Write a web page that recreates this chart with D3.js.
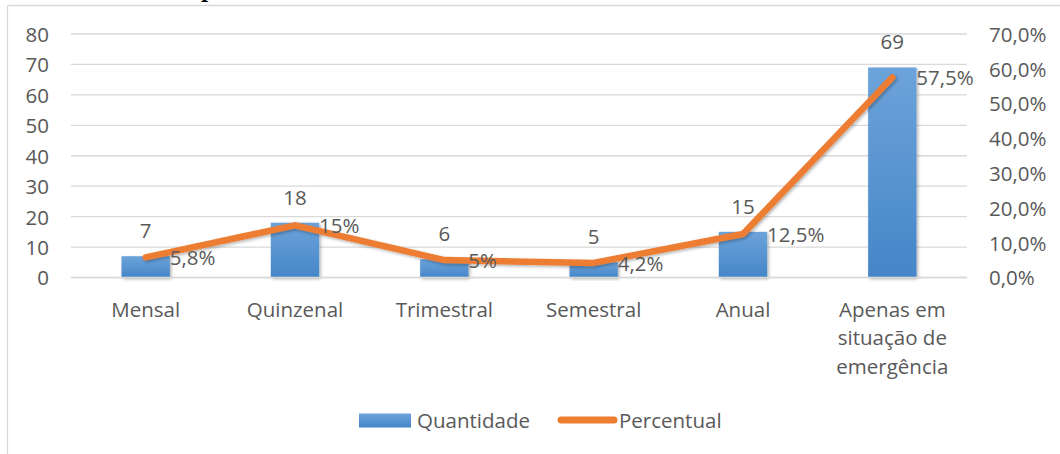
<!DOCTYPE html>
<html>
<head>
<meta charset="utf-8">
<script src="https://cdn.jsdelivr.net/npm/d3@7"></script>
<style>
  html, body { margin: 0; padding: 0; background: #fff; }
  svg { display: block; }
  text { font-family: "Open Sans", "Noto Sans", sans-serif; fill: #595959; }
</style>
</head>
<body>
<svg id="chart" width="1060" height="454"></svg>
<script>
const categories = ["Mensal", "Quinzenal", "Trimestral", "Semestral", "Anual", "Apenas em situação de emergência"];
const quantities = [7, 18, 6, 5, 15, 69];
const percents = [0.058, 0.15, 0.05, 0.042, 0.125, 0.575];
const percentLabels = ["5,8%", "15%", "5%", "4,2%", "12,5%", "57,5%"];
const leftTicks = [0, 10, 20, 30, 40, 50, 60, 70, 80];
const rightTicks = [0, 0.1, 0.2, 0.3, 0.4, 0.5, 0.6, 0.7];
const legendLabels = ["Quantidade", "Percentual"];

(function () {
const FS = 20.5;
const svg = d3.select("#chart");
const pL = 71, pR = 967, pT = 34, pB = 277.5;

const pt = d3.formatLocale({decimal: ",", thousands: ".", grouping: [3], currency: ["", ""]}).format(".1%");

const defs = svg.append("defs");
const grad = defs.append("linearGradient").attr("id", "barGrad").attr("x1", 0).attr("y1", 0).attr("x2", 0).attr("y2", 1);
grad.append("stop").attr("offset", "0%").attr("stop-color", "#6ca3da");
grad.append("stop").attr("offset", "100%").attr("stop-color", "#4586c8");
const lgrad = defs.append("linearGradient").attr("id", "legGrad").attr("x1", 0).attr("y1", 0).attr("x2", 0).attr("y2", 1);
lgrad.append("stop").attr("offset", "0%").attr("stop-color", "#6ca3da");
lgrad.append("stop").attr("offset", "100%").attr("stop-color", "#4586c8");
const sh = defs.append("filter").attr("id", "shadow").attr("x", "-20%").attr("y", "-20%").attr("width", "140%").attr("height", "140%");
sh.append("feDropShadow").attr("dx", 1.5).attr("dy", 1.5).attr("stdDeviation", 1.6).attr("flood-color", "#000").attr("flood-opacity", 0.3);

// frame
svg.append("line").attr("x1", 7.5).attr("x2", 7.5).attr("y1", 5.5).attr("y2", 454).attr("stroke", "#d9d9d9").attr("stroke-width", 1.3);
svg.append("line").attr("x1", 7.5).attr("x2", 1060).attr("y1", 5.5).attr("y2", 5.5).attr("stroke", "#d9d9d9").attr("stroke-width", 1.3);
// cropped title fragment (only its descender shows above the frame)
svg.append("text").attr("x", 201).attr("y", -3.5).style("font-family", "'Liberation Serif', serif").style("font-weight", "bold").style("fill", "#000").style("font-size", "26px").text("p");

const x = d3.scaleBand().domain(categories).range([pL, pR]).paddingInner(0).paddingOuter(0);
const y = d3.scaleLinear().domain([0, 80]).range([pB, pT]);
const yR = d3.scaleLinear().domain([0, 0.7]).range([pB, pT]);

// gridlines
svg.append("g").selectAll("line").data(leftTicks).join("line")
  .attr("x1", pL).attr("x2", pR)
  .attr("y1", d => y(d)).attr("y2", d => y(d))
  .attr("stroke", "#d9d9d9").attr("stroke-width", 1.3);

// left axis
const ay = svg.append("g").attr("transform", `translate(${pL - 22},0)`)
  .call(d3.axisLeft(y).tickValues(leftTicks).tickSize(0).tickPadding(0).tickFormat(d3.format("d")));
ay.select(".domain").remove();
ay.selectAll("text").style("font-size", FS + "px").attr("fill", "#595959").attr("dy", "0.36em");

// right axis
const ar = svg.append("g").attr("transform", `translate(${pR + 22},0)`)
  .call(d3.axisRight(yR).tickValues(rightTicks).tickSize(0).tickPadding(0).tickFormat(pt));
ar.select(".domain").remove();
ar.selectAll("text").style("font-size", FS + "px").attr("fill", "#595959").attr("dy", "0.36em");

// bars
const bw = x.bandwidth() * 0.324;
svg.append("g").selectAll("rect").data(quantities).join("rect")
  .attr("x", (d, i) => x(categories[i]) + x.bandwidth() / 2 - bw / 2)
  .attr("y", d => y(d))
  .attr("width", bw)
  .attr("height", d => pB - y(d))
  .attr("fill", "url(#barGrad)")
  .attr("filter", "url(#shadow)");

svg.append("line").attr("x1", pL).attr("x2", pR).attr("y1", y(0)).attr("y2", y(0)).attr("stroke", "#d9d9d9").attr("stroke-width", 1.3);

// category labels (wrapped)
const ax = svg.append("g").attr("transform", `translate(0,${pB})`)
  .call(d3.axisBottom(x).tickSize(0).tickPadding(0));
ax.select(".domain").remove();
ax.selectAll("text").style("font-size", FS + "px").attr("fill", "#595959").attr("dy", null).attr("y", 39)
  .each(function(d) {
    const t = d3.select(this);
    const words = d.split(" ");
    const maxW = x.bandwidth() * 0.88;
    t.text(null);
    let lines = [], cur = [];
    const probe = t.append("tspan");
    words.forEach(w => {
      const test = cur.concat([w]).join(" ");
      probe.text(test);
      if (probe.node().getComputedTextLength() > maxW && cur.length) {
        lines.push(cur.join(" "));
        cur = [w];
      } else cur.push(w);
    });
    lines.push(cur.join(" "));
    probe.remove();
    lines.forEach((ln, i) => {
      t.append("tspan").attr("x", 0).attr("y", 39 + i * 28.7).text(ln);
    });
  });

// bar value labels
svg.append("g").selectAll("text").data(quantities).join("text")
  .attr("x", (d, i) => x(categories[i]) + x.bandwidth() / 2)
  .attr("y", d => y(d) - 18)
  .attr("text-anchor", "middle")
  .style("font-size", FS + "px")
  .text(d => d);

// line
const line = d3.line()
  .x((d, i) => x(categories[i]) + x.bandwidth() / 2)
  .y(d => yR(d));
svg.append("path").datum(percents)
  .attr("d", line)
  .attr("fill", "none")
  .attr("stroke", "#ed7d31")
  .attr("stroke-width", 6.5)
  .attr("stroke-linecap", "round")
  .attr("stroke-linejoin", "round")
  .attr("filter", "url(#shadow)");

// percent labels
svg.append("g").selectAll("text").data(percents).join("text")
  .attr("x", (d, i) => x(categories[i]) + x.bandwidth() / 2 + 24)
  .attr("y", d => yR(d) + 8)
  .style("font-size", FS + "px")
  .text((d, i) => percentLabels[i]);

// legend
const lg = svg.append("g");
lg.append("rect").attr("x", 359).attr("y", 413.5).attr("width", 52).attr("height", 14).attr("fill", "url(#legGrad)");
lg.append("text").attr("x", 417).attr("y", 428).style("font-size", FS + "px").text(legendLabels[0]);
lg.append("line").attr("x1", 561).attr("x2", 614).attr("y1", 420).attr("y2", 420)
  .attr("stroke", "#ed7d31").attr("stroke-width", 7).attr("stroke-linecap", "round");
lg.append("text").attr("x", 619).attr("y", 428).style("font-size", FS + "px").text(legendLabels[1]);
})();
</script>
</body>
</html>
